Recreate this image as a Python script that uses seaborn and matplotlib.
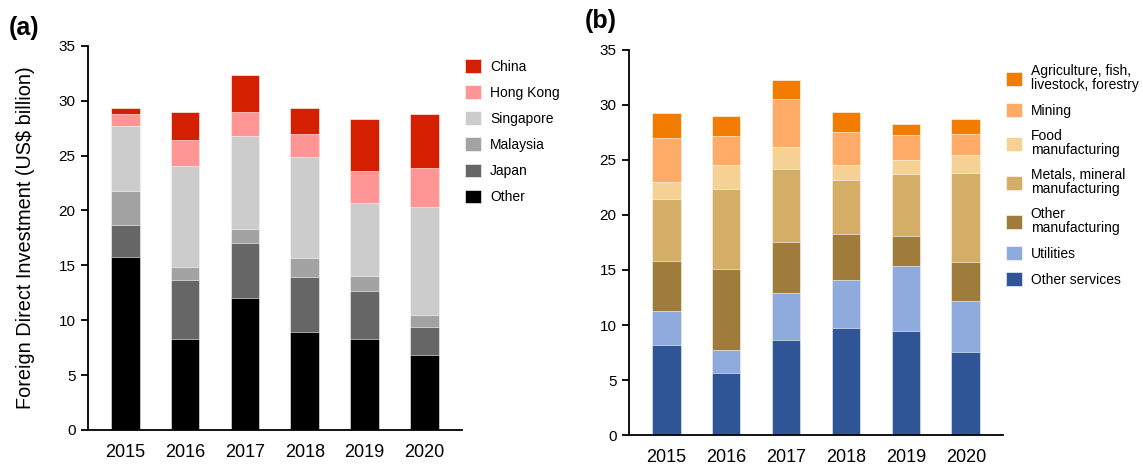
import numpy as np
import matplotlib
matplotlib.use("Agg")
import matplotlib.pyplot as plt
import seaborn as sns

#%% data
years = ["2015", "2016", "2017", "2018", "2019", "2020"]

# (a) by source country, US$ billion (bottom -> top)
other_country = [15.8, 8.3, 12.0, 8.95, 8.3, 6.8]
japan = [2.85, 5.4, 5.05, 4.95, 4.4, 2.6]
malaysia = [3.15, 1.15, 1.25, 1.8, 1.3, 1.05]
singapore = [5.85, 9.2, 8.5, 9.15, 6.65, 9.85]
hong_kong = [1.1, 2.35, 2.2, 2.1, 2.9, 3.55]
china = [0.55, 2.6, 3.35, 2.4, 4.75, 4.9]

# (b) by sector, US$ billion (bottom -> top)
other_services = [8.2, 5.6, 8.65, 9.7, 9.45, 7.55]
utilities = [3.05, 2.1, 4.3, 4.4, 5.95, 4.6]
other_mfg = [4.55, 7.35, 4.6, 4.15, 2.7, 3.55]
metals_mfg = [5.65, 7.3, 6.6, 4.95, 5.65, 8.1]
food_mfg = [1.55, 2.2, 2.05, 1.35, 1.25, 1.65]
mining = [4.0, 2.65, 4.35, 3.0, 2.25, 1.95]
agriculture = [2.3, 1.8, 1.7, 1.85, 1.0, 1.35]

country_labels = ["Other", "Japan", "Malaysia", "Singapore", "Hong Kong", "China"]
country_colors = ["#000000", "#666666", "#a3a3a3", "#cccccc", "#ff9594", "#d41f00"]

sector_labels = ["Other services", "Utilities", "Other\nmanufacturing",
                 "Metals, mineral\nmanufacturing", "Food\nmanufacturing",
                 "Mining", "Agriculture, fish,\nlivestock, forestry"]
sector_colors = ["#2f5597", "#8faadc", "#a07c3c", "#d4ad66", "#f5d193",
                 "#fdab66", "#f27c00"]


#%% helpers
def stacked(ax, parts, colors, labels):
    '''
    draws stacked bars with seaborn by overlaying cumulative totals,
    tallest first so the lower segments sit on top
    '''
    tops = np.cumsum(np.array(parts), axis=0)
    for i in range(len(parts) - 1, -1, -1):
        sns.barplot(x=years, y=tops[i], color=colors[i], width=0.48,
                    edgecolor="white", linewidth=0.4, saturation=1,
                    label=labels[i], ax=ax)
    ax.set_ylim(0, 35)
    ax.set_xlim(-0.62, 5.62)
    ax.set_yticks(range(0, 36, 5))
    ax.tick_params(axis="y", length=5, width=1.3, labelsize=11, pad=4)
    ax.tick_params(axis="x", length=0, labelsize=13, pad=10)
    for s in ["top", "right"]:
        ax.spines[s].set_visible(False)
    for s in ["left", "bottom"]:
        ax.spines[s].set_linewidth(1.3)
        ax.spines[s].set_color("black")
    ax.set_xlabel("")


def legend(ax, anchor, labelspacing):
    # handles already come top segment first
    leg = ax.legend(loc="upper left",
                    bbox_to_anchor=anchor, bbox_transform=ax.figure.transFigure,
                    frameon=False, fontsize=10, borderpad=0, borderaxespad=0,
                    handlelength=1.15, handleheight=1.15, handletextpad=0.65,
                    labelspacing=labelspacing)
    for t in leg.get_texts():
        t.set_linespacing(1.0)
    return leg


#%% figure
sns.set_style("ticks")
plt.rcParams["font.family"] = ["Liberation Sans", "DejaVu Sans"]
plt.rcParams["text.color"] = "black"
plt.rcParams["axes.labelcolor"] = "black"
plt.rcParams["xtick.color"] = "black"
plt.rcParams["ytick.color"] = "black"

fig = plt.figure(figsize=(11.43, 4.65), dpi=100)
ax_a = fig.add_axes([0.077, 0.0753, 0.327, 0.8264])
ax_b = fig.add_axes([0.5503, 0.0645, 0.3272, 0.828])

stacked(ax_a, [other_country, japan, malaysia, singapore, hong_kong, china],
        country_colors, country_labels)
stacked(ax_b, [other_services, utilities, other_mfg, metals_mfg, food_mfg,
               mining, agriculture], sector_colors, sector_labels)

ax_a.set_ylabel("Foreign Direct Investment (US$ billion)", fontsize=14.3, labelpad=17)
ax_b.set_ylabel("")

legend(ax_a, (0.407, 0.873), 0.83)
legend(ax_b, (0.880, 0.862), 0.8)

fig.text(0.008, 0.965, "(a)", fontsize=18, fontweight="bold", va="top")
fig.text(0.512, 0.98, "(b)", fontsize=18, fontweight="bold", va="top")

fig.savefig("out.png", dpi=100)
